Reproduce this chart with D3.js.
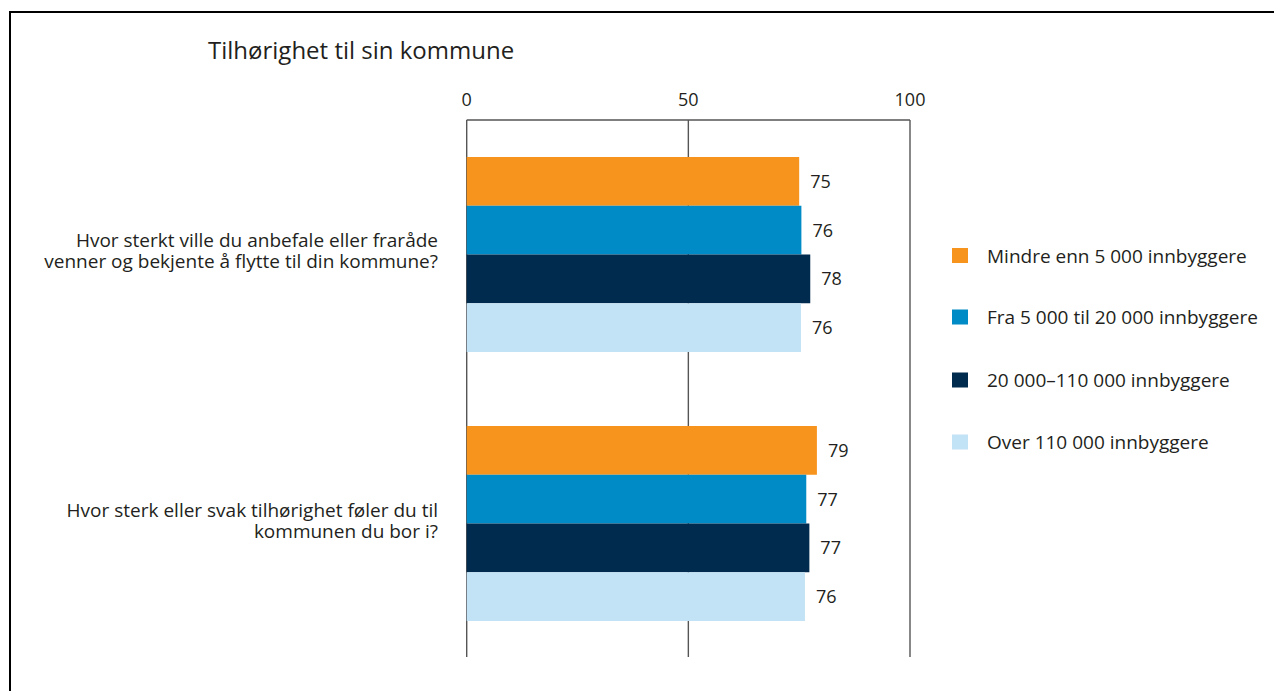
<!DOCTYPE html>
<html>
<head>
<meta charset="utf-8">
<script src="https://cdn.jsdelivr.net/npm/d3@7"></script>
<style>
  html, body { margin: 0; padding: 0; background: #fff; }
  svg { display: block; }
  text { font-family: "Open Sans", sans-serif; fill: #231f20; }
</style>
</head>
<body>
<svg id="chart" width="1274" height="691"></svg>
<script>
const title = "Tilhørighet til sin kommune";
const questions = [
  ["Hvor sterkt ville du anbefale eller fraråde", "venner og bekjente å flytte til din kommune?"],
  ["Hvor sterk eller svak tilhørighet føler du til", "kommunen du bor i?"]
];
const seriesNames = [
  "Mindre enn 5 000 innbyggere",
  "Fra 5 000 til 20 000 innbyggere",
  "20 000\u2013110 000 innbyggere",
  "Over 110 000 innbyggere"
];
const seriesColors = ["#f7941d", "#008bc6", "#002b4f", "#c2e2f5"];
// values per question, per series
const q1Values = [75.0, 75.5, 77.5, 75.4];
const q2Values = [79.0, 76.6, 77.3, 76.3];
const valueLabels = [[75, 76, 78, 76], [79, 77, 77, 76]];
const tickValues = [0, 50, 100];

const data = [q1Values, q2Values];

const svg = d3.select("#chart");

// frame
svg.append("rect")
  .attr("x", 10).attr("y", 12)
  .attr("width", 1300).attr("height", 700)
  .attr("fill", "none").attr("stroke", "#000").attr("stroke-width", 2);

svg.append("text")
  .attr("x", 208).attr("y", 58.5)
  .style("font-size", "24px")
  .text(title);

const x = d3.scaleLinear().domain([0, 100]).range([466.7, 910]);
const yOuter = d3.scaleBand().domain(d3.range(questions.length))
  .range([157, 621]).paddingInner(0.2751).paddingOuter(0);
const yInner = d3.scaleBand().domain(d3.range(seriesNames.length))
  .range([0, yOuter.bandwidth()]).padding(0);

const axisTop = 120, axisBottom = 657;

// top axis line
svg.append("line")
  .attr("x1", x(0)).attr("x2", x(100))
  .attr("y1", axisTop).attr("y2", axisTop)
  .attr("stroke", "#555").attr("stroke-width", 1.4);

// vertical gridlines
svg.selectAll(".grid").data(tickValues).enter().append("line")
  .attr("class", "grid")
  .attr("x1", d => x(d)).attr("x2", d => x(d))
  .attr("y1", axisTop).attr("y2", axisBottom)
  .attr("stroke", "#555").attr("stroke-width", 1.4);

// tick labels
svg.selectAll(".tick").data(tickValues).enter().append("text")
  .attr("class", "tick")
  .attr("x", d => x(d)).attr("y", 106)
  .attr("text-anchor", "middle")
  .style("font-size", "18px")
  .text(d => d);

// bars
const groups = svg.selectAll(".grp").data(data).enter().append("g")
  .attr("class", "grp")
  .attr("transform", (d, i) => `translate(0,${yOuter(i)})`);

groups.selectAll("rect").data(d => d).enter().append("rect")
  .attr("x", x(0))
  .attr("y", (d, j) => yInner(j))
  .attr("width", d => x(d) - x(0))
  .attr("height", yInner.bandwidth())
  .attr("fill", (d, j) => seriesColors[j]);

groups.each(function(d, i) {
  d3.select(this).selectAll(".val").data(d).enter().append("text")
    .attr("class", "val")
    .attr("x", v => x(v) + 11)
    .attr("y", (v, j) => yInner(j) + yInner.bandwidth() / 2 + 6.5)
    .style("font-size", "18px")
    .text((v, j) => valueLabels[i][j]);
});

// question labels
questions.forEach((lines, i) => {
  const cy = yOuter(i) + yOuter.bandwidth() / 2;
  const t = svg.append("text")
    .attr("text-anchor", "end")
    .style("font-size", "19px");
  lines.forEach((ln, k) => {
    t.append("tspan")
      .attr("x", 438)
      .attr("y", cy - 7 + k * 21)
      .text(ln);
  });
});

// legend
const legendY = [255.5, 317, 380, 442];
seriesNames.forEach((name, i) => {
  svg.append("rect")
    .attr("x", 952).attr("y", legendY[i] - 7.5)
    .attr("width", 16).attr("height", 15)
    .attr("fill", seriesColors[i]);
  svg.append("text")
    .attr("x", 987).attr("y", legendY[i] + 7)
    .style("font-size", "19px")
    .text(name);
});
</script>
</body>
</html>
